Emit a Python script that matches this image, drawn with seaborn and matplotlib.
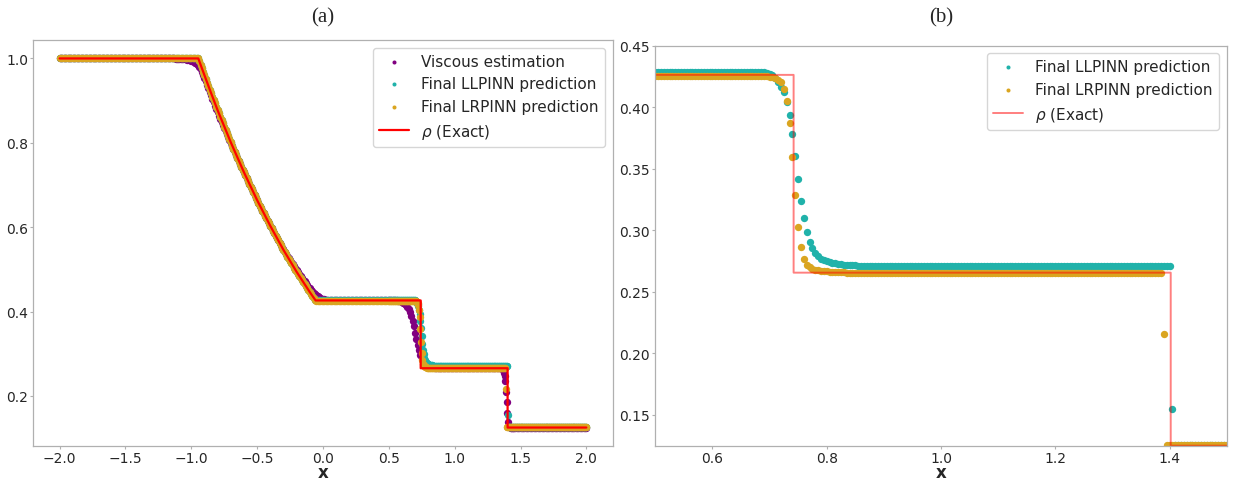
import numpy as np
import matplotlib
matplotlib.use('Agg')
import matplotlib.pyplot as plt
import seaborn as sns

sns.set_style("ticks")
plt.rcParams['font.family'] = ['DejaVu Sans']

# ---------------------------------------------------------------------------
# Data (Sod shock tube, density)
# ---------------------------------------------------------------------------
# sample grids: 0.01 on the left part, 0.005 where panel (b) zooms in
x_coarse = np.linspace(-2.0, 0.49, 250)
x_fine = np.linspace(0.5, 2.0, 301)

# rarefaction fan of both PINN predictions, x = -0.94 ... -0.06
pinn_fan = [0.9942, 0.9855, 0.9768, 0.9682, 0.9596, 0.9512, 0.9428, 0.9344,
            0.9261, 0.9178, 0.9097, 0.9015, 0.8935, 0.8854, 0.8774, 0.8695,
            0.8616, 0.8538, 0.8461, 0.8384, 0.8308, 0.8232, 0.8157, 0.8083,
            0.8009, 0.7936, 0.7863, 0.7790, 0.7718, 0.7647, 0.7576, 0.7506,
            0.7436, 0.7367, 0.7298, 0.7230, 0.7162, 0.7095, 0.7028, 0.6962,
            0.6897, 0.6831, 0.6767, 0.6703, 0.6639, 0.6576, 0.6513, 0.6451,
            0.6389, 0.6328, 0.6267, 0.6206, 0.6146, 0.6087, 0.6028, 0.5970,
            0.5912, 0.5854, 0.5797, 0.5740, 0.5684, 0.5628, 0.5572, 0.5517,
            0.5463, 0.5409, 0.5356, 0.5302, 0.5250, 0.5197, 0.5145, 0.5094,
            0.5042, 0.4991, 0.4941, 0.4891, 0.4842, 0.4793, 0.4744, 0.4696,
            0.4648, 0.4600, 0.4553, 0.4506, 0.4460, 0.4414, 0.4369, 0.4324,
            0.4279]

# contact discontinuity, x = 0.690 ... 0.850
llpinn_contact = [0.4283, 0.4278, 0.4270, 0.4258, 0.4235, 0.4205, 0.4167,
                  0.4121, 0.4040, 0.3937, 0.3782, 0.3601, 0.3417, 0.3239,
                  0.3098, 0.2990, 0.2908, 0.2854, 0.2815, 0.2790, 0.2770,
                  0.2757, 0.2748, 0.2740, 0.2735, 0.2731, 0.2727, 0.2724,
                  0.2722, 0.2720, 0.2719, 0.2717, 0.2716]
lrpinn_contact = [0.4254, 0.4251, 0.4247, 0.4242, 0.4238, 0.4225, 0.4205,
                  0.4151, 0.4048, 0.3873, 0.3593, 0.3287, 0.3025, 0.2862,
                  0.2767, 0.2721, 0.2700, 0.2688, 0.2680, 0.2675, 0.2671,
                  0.2668, 0.2666, 0.2664, 0.2662, 0.2661, 0.2660, 0.2659,
                  0.2658, 0.2657, 0.2657, 0.2656, 0.2656]

llpinn_y = np.array([1.0] * 106 + pinn_fan + [0.4285] * 55
                    + [0.4285] * 38 + llpinn_contact + [0.2714] * 110
                    + [0.155] + [0.1255] * 119)
lrpinn_y = np.array([1.0] * 106 + pinn_fan + [0.4256] * 55
                    + [0.4256] * 38 + lrpinn_contact + [0.2655] * 107
                    + [0.216] + [0.1255] * 122)
pinn_x = np.concatenate([x_coarse, x_fine])

# viscous estimation (own grid, finer across the shock)
visc_x = np.concatenate([np.linspace(-2.0, 1.35, 336),
                         np.linspace(1.355, 1.45, 20),
                         np.linspace(1.46, 2.0, 55)])
# x = -1.14 ... 0.05
visc_fan = [1.000, 0.9999, 0.9998, 0.9997, 0.9995, 0.9993, 0.9991, 0.9988,
            0.9984, 0.9980, 0.9975, 0.9969, 0.9962, 0.9953, 0.9943, 0.9932,
            0.9920, 0.9903, 0.9875, 0.9840, 0.9800, 0.9750, 0.9690, 0.9615,
            0.9535, 0.9455, 0.9372, 0.9290, 0.9205, 0.9122, 0.9040, 0.8960,
            0.8880, 0.8800, 0.8720, 0.8643, 0.8567, 0.8492, 0.8418, 0.8346,
            0.8274, 0.8203, 0.8133, 0.8063, 0.7993,
            0.7936, 0.7863, 0.7790, 0.7718, 0.7647, 0.7576, 0.7506, 0.7436,
            0.7367, 0.7298, 0.7230, 0.7162, 0.7095, 0.7028, 0.6962, 0.6897,
            0.6831, 0.6767, 0.6703, 0.6639, 0.6576, 0.6513, 0.6451, 0.6389,
            0.6328, 0.6267, 0.6206, 0.6146, 0.6087, 0.6028, 0.5970, 0.5912,
            0.5854, 0.5797, 0.5740, 0.5684, 0.5628, 0.5572, 0.5517,
            0.5473, 0.5421, 0.5370, 0.5318, 0.5268, 0.5217, 0.5169, 0.5122,
            0.5074, 0.5027, 0.4981, 0.4935, 0.4890, 0.4845, 0.4800, 0.4756,
            0.4714, 0.4672, 0.4631, 0.4590, 0.4550, 0.4512, 0.4476, 0.4442,
            0.4410, 0.4382, 0.4357, 0.4336, 0.4318, 0.4304, 0.4294, 0.4287,
            0.4282, 0.4279, 0.4277, 0.4276]
# x = 0.56 ... 0.90
visc_contact = [0.4264, 0.4258, 0.4250, 0.4240, 0.4225, 0.4205, 0.4180,
                0.4148, 0.4105, 0.4050, 0.3980, 0.3890, 0.3780, 0.3650,
                0.3500, 0.3350, 0.3210, 0.3085, 0.2980, 0.2895, 0.2830,
                0.2780, 0.2745, 0.2720, 0.2703, 0.2692, 0.2684, 0.2678,
                0.2674, 0.2671, 0.2669, 0.2668, 0.2667, 0.2666, 0.2665]
# x = 1.355 ... 1.450
visc_shock = [0.2665, 0.2664, 0.2640, 0.2620, 0.2550, 0.2460, 0.2360,
              0.2100, 0.1850, 0.1600, 0.1380, 0.1290, 0.1260, 0.1253,
              0.1250, 0.1250, 0.1250, 0.1250, 0.1250, 0.1250]
visc_y = np.array([1.0] * 86 + visc_fan + [0.4275] * 50 + visc_contact
                  + [0.2665] * 45 + visc_shock + [0.125] * 55)

# exact solution
exact_x = [-2.0, -0.947, -0.9, -0.85, -0.8, -0.7, -0.6, -0.5, -0.4, -0.3,
           -0.2, -0.1, -0.056, 0.742, 0.742, 1.402, 1.402, 2.0]
exact_y = [1.0, 1.0, 0.960, 0.918, 0.877, 0.801, 0.730, 0.664, 0.603, 0.546,
           0.494, 0.446, 0.4263, 0.4263, 0.2656, 0.2656, 0.125, 0.125]

# ---------------------------------------------------------------------------
fig = plt.figure(figsize=(12.33, 4.81), dpi=100)
ax1 = fig.add_axes([0.027, 0.0707, 0.4699, 0.8441])
ax2 = fig.add_axes([0.5315, 0.0713, 0.4634, 0.8316])

PURPLE = '#800080'
TEAL = '#20b2aa'
GOLD = '#daa520'
SPINE = '#b0b0b0'
S = 28

# (a) full domain
sns.scatterplot(x=visc_x, y=visc_y, color=PURPLE, s=S, linewidth=0,
                label='Viscous estimation', ax=ax1)
sns.scatterplot(x=pinn_x, y=llpinn_y, color=TEAL, s=S, linewidth=0,
                label='Final LLPINN prediction', ax=ax1)
sns.scatterplot(x=pinn_x, y=lrpinn_y, color=GOLD, s=S, linewidth=0,
                label='Final LRPINN prediction', ax=ax1)
sns.lineplot(x=exact_x, y=exact_y, color='red', linewidth=1.6, sort=False,
             estimator=None, label=r'$\rho$ (Exact)', ax=ax1)
ax1.legend(loc='upper right', fontsize=11, markerscale=0.55)

# (b) zoom on contact / shock
sns.scatterplot(x=pinn_x, y=llpinn_y, color=TEAL, s=S, linewidth=0,
                label='Final LLPINN prediction', ax=ax2)
sns.scatterplot(x=pinn_x, y=lrpinn_y, color=GOLD, s=S, linewidth=0,
                label='Final LRPINN prediction', ax=ax2)
sns.lineplot(x=exact_x, y=exact_y, color='red', alpha=0.5, linewidth=1.4,
             sort=False, estimator=None, label=r'$\rho$ (Exact)', ax=ax2)
ax2.set_xlim(0.5, 1.5)
ax2.set_ylim(0.125, 0.45)
ax2.legend(loc='upper right', fontsize=11, markerscale=0.55)

for ax, ylab in ((ax1, -0.065), (ax2, -0.066)):
    ax.set_xlabel('x', fontsize=12, fontweight='bold')
    ax.xaxis.label.set_va('center')
    ax.xaxis.set_label_coords(0.5, ylab)
    ax.set_ylabel('')
    ax.tick_params(labelsize=10, color=SPINE, length=2.5, width=0.8, pad=1.2)
    for sp in ax.spines.values():
        sp.set_color(SPINE)
        sp.set_linewidth(0.9)

fig.text(323 / 1233, 1 - 18 / 481, '(a)', ha='center', va='center',
         fontsize=15, family='Liberation Serif')
fig.text(941 / 1233, 1 - 18 / 481, '(b)', ha='center', va='center',
         fontsize=15, family='Liberation Serif')

plt.savefig('out.png', dpi=100)
plt.close()
